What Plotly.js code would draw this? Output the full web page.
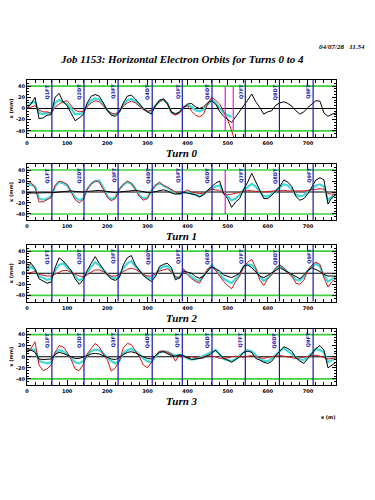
<!DOCTYPE html>
<html><head><meta charset="utf-8">
<script src="https://cdn.plot.ly/plotly-3.0.1.min.js"></script>
<style>html,body{margin:0;padding:0;background:#fff}#c{width:375px;height:500px}</style>
</head><body><div id="c"></div>
<script>
// s positions (m)
const S=[0,10,20,30,40,50,60,70,80,90,100,110,120,130,140,150,160,170,180,190,200,210,220,230,240,250,260,270,280,290,300,310,320,330,340,350,360,370,380,390,400,410,420,430,440,450,460,470,480,490,500,510,520,530,540,550,560,570,580,590,600,610,620,630,640,650,660,670,680,690,700,710,720,730,740,750,760,770];
const quadS=[62,142,227,312,387,461,544,629,713];
const quadNames=['Q1FT','Q2DT','Q3FT','Q4DT','Q5FT','Q6DT','Q7FT','Q8DT','Q9FT'];
const turnNames=['Turn 0','Turn 1','Turn 2','Turn 3'];
const xTicks=[0,100,200,300,400,500,600,700];
const yTicks=[-40,-20,0,20,40];
const limitLine=40;
const magentaS=[[494,514],[494],[],[]];

const black0=[0,8,20,-18,-17,-12,-11,20,27,12,5,-8,-22,-17,-11,10,22,25,22,10,-3,-12,-14,-7,10,22,24,17,8,0,-6,-10,5,15,16,8,-6,-10,-6,2,8,9,3,0,3,10,14,8,-5,-14,-20,-25,-15,-5,3,15,26,12,2,-10,-6,-4,6,10,12,9,4,-4,-10,-6,2,8,14,13,-8,-14,-10,-8];
const red0=[0,2,5,-3,-6,-6,-8,2,8,12,14,5,-3,-6,-5,3,10,14,12,5,-3,-8,-10,-5,4,10,13,10,4,-2,-5,-3,5,12,18,10,-8,-12,-8,3,5,-5,-12,-15,-10,8,20,15,8,-5,-20,-40,-62,null,null,null,null,null,null,null,null,null,null,null,null,null,null,null,null,null,null,null,null,null,null,null,null,null];
const cyan0=[3,10,12,-8,-10,-8,-9,10,15,12,8,0,-10,-10,-8,6,15,18,16,8,-3,-10,-11,-6,6,15,17,13,6,-1,-5,-6,5,13,16,9,-7,-10,-7,3,6,3,-3,-5,-2,8,16,10,2,-8,-12,-15,null,null,null,null,null,null,null,null,null,null,null,null,null,null,null,null,null,null,null,null,null,null,null,null,null,null];

const black1=[-2,-2,-1,-2,-2,-2,-2,-1,0,1,2,2,1,0,0,1,2,3,3,2,1,0,-1,0,1,2,3,3,2,0,-1,-1,1,3,4,2,-2,-4,-3,-1,-2,-4,-5,-9,-5,3,10,16,20,-3,-12,-28,-18,-12,5,18,34,18,5,-12,-12,-6,2,10,22,18,10,-8,-15,-12,-3,10,22,26,22,-22,-10,-5];
const red1=[15,17,8,-18,-18,-14,-10,12,20,18,14,0,-14,-20,-14,5,15,20,18,5,-10,-16,-12,5,14,20,16,5,-8,-15,-12,2,12,18,12,9,4,0,-4,0,4,0,-2,-3,-2,2,5,4,3,-2,-5,-4,-2,0,2,3,2,1,0,0,1,2,2,2,3,2,2,1,1,2,3,4,5,6,5,-3,-4,-4];
const cyan1=[10,14,10,-12,-14,-12,-8,10,18,16,12,0,-10,-15,-12,5,15,20,21,8,-8,-13,-10,5,13,18,15,6,-6,-12,-10,2,12,16,12,8,3,-2,-4,-1,0,-3,-6,-8,-4,2,6,10,12,-2,-8,-15,-12,-5,4,10,15,10,2,-8,-8,-4,2,8,14,12,5,-5,-8,-6,0,5,12,14,10,-15,-8,-4];

const black2=[10,18,8,-10,-14,-18,-16,10,28,22,14,5,-10,-20,-12,5,18,30,18,8,-3,-10,-13,-8,15,28,32,15,6,-4,-10,-15,-6,12,16,18,10,-12,-8,3,2,0,-6,-9,-5,4,12,8,4,-3,-6,-8,-4,0,13,15,10,2,-5,-8,-4,0,5,10,6,3,-2,-6,-10,-3,5,10,7,3,-2,-5,-5,-5];
const red2=[0,2,3,-2,-4,-5,-5,-2,2,5,5,2,-2,-5,-6,-3,2,6,6,3,-2,-5,-5,-2,3,7,9,7,3,-2,-5,-5,-1,4,6,8,2,-6,-9,8,-3,-10,-15,-18,-5,8,12,5,-5,-15,-22,-28,-15,-5,12,20,25,10,-12,-22,-10,-3,10,15,10,0,-5,-18,-20,-12,5,15,20,16,-8,-25,-15,-10];
const cyan2=[5,12,6,-6,-8,-12,-10,5,15,18,10,4,-6,-13,-9,2,12,20,14,6,-2,-7,-9,-5,9,18,22,12,5,-3,-8,-10,-3,8,12,13,5,-8,-8,6,0,-6,-12,-14,-4,6,14,7,-2,-10,-14,-18,-10,-2,12,16,15,7,-6,-14,-8,-1,8,14,8,2,-4,-12,-13,-6,5,12,17,12,-4,-15,-10,-6];

const black3=[10,12,8,-4,-5,-5,-4,4,8,6,3,0,-3,-3,-1,2,5,6,5,2,-2,-4,-5,-2,4,8,9,7,3,0,-3,-4,2,8,9,6,2,1,3,2,-2,-5,-4,-3,-2,2,6,12,5,-3,-6,-10,-5,0,8,10,8,-3,-6,-10,-12,-8,2,10,18,15,10,-2,-8,-12,-4,6,15,20,12,-20,-15,-10];
const red3=[10,15,27,-15,-25,-22,-15,8,20,18,8,-5,-22,-25,-14,5,15,24,18,5,-5,-26,-20,-8,16,24,22,12,0,-15,-20,-10,2,10,10,8,5,-8,4,0,-2,0,-2,-3,0,2,1,0,-3,-3,-2,0,1,0,-1,1,2,0,-2,-3,-1,0,1,2,1,0,-1,-3,-2,-1,0,2,3,1,-2,-4,-3,-2];
const cyan3=[12,14,12,-8,-10,-12,-10,6,12,10,5,-2,-10,-12,-8,3,10,13,12,6,-2,-8,-12,-8,6,12,14,10,4,-3,-8,-10,0,8,10,9,5,2,4,2,-3,-5,-4,-2,2,5,8,12,4,-4,-6,-8,-4,2,8,12,10,3,-4,-8,-8,-3,4,10,15,10,5,-2,-5,-6,0,6,14,12,8,-10,-6,-3];

const blackSets=[black0,black1,black2,black3];
const redSets=[red0,red1,red2,red3];
const cyanSets=[cyan0,cyan1,cyan2,cyan3];

const domains=[[0.726,0.84],[0.56,0.672],[0.397,0.51],[0.23,0.343]];
const turnY=[0.694,0.528,0.364,0.198];
const BLUE='#1a1aa8', GREEN='#3cd23c', MAG='#e020e0';
const tickFont={family:'DejaVu Sans',size:5,color:'#000',weight:'bold'};

const data=[]; const layout={
  width:375,height:500,margin:{l:27,r:39,t:0,b:0},
  paper_bgcolor:'#fff',plot_bgcolor:'#fff',showlegend:false,
  shapes:[],annotations:[]
};
for(let p=0;p<4;p++){
  const n=p?String(p+1):'';
  const xa='x'+n, ya='y'+n;
  layout['xaxis'+n]={anchor:ya,domain:[0,1],range:[0,770],showline:true,mirror:'ticks',linecolor:'#000',linewidth:1,
    ticks:'inside',ticklen:5,tickwidth:1,tickcolor:'#000',tickvals:xTicks,ticktext:xTicks.map(String),
    minor:{dtick:20,tick0:0,ticks:'inside',ticklen:3,tickcolor:'#000',showgrid:false},
    showgrid:false,zeroline:false,tickfont:tickFont,ticklabelstandoff:1};
  layout['yaxis'+n]={anchor:xa,domain:domains[p],range:[-51,51],showline:true,mirror:'ticks',linecolor:'#000',linewidth:1,
    ticks:'inside',ticklen:4,tickwidth:1,tickcolor:'#000',tickvals:yTicks,ticktext:yTicks.map(String),
    minor:{dtick:5,tick0:0,ticks:'inside',ticklen:2,tickcolor:'#000',showgrid:false},
    showgrid:false,zeroline:false,tickfont:tickFont,
    title:{text:'x (mm)',font:{family:'DejaVu Sans',size:5,weight:'bold',color:'#000'},standoff:2}};
  [limitLine,-limitLine].forEach(v=>layout.shapes.push({type:'line',xref:xa+' domain',yref:ya,x0:0,x1:1,y0:v,y1:v,line:{color:GREEN,width:1.6},layer:'below'}));
  layout.shapes.push({type:'line',xref:xa+' domain',yref:ya,x0:0,x1:1,y0:0,y1:0,line:{color:'#000',width:1},layer:'below'});
  quadS.forEach((q,i)=>{
    layout.shapes.push({type:'line',xref:xa,yref:ya+' domain',x0:q,x1:q,y0:0,y1:1,line:{color:BLUE,width:1.2},layer:'above'});
    layout.annotations.push({xref:xa,yref:ya,x:q,y:30,xshift:-5,text:quadNames[i],textangle:-90,showarrow:false,
      font:{family:'DejaVu Sans',size:5,color:BLUE,weight:'bold'},xanchor:'center',yanchor:'middle'});
  });
  magentaS[p].forEach(m=>layout.shapes.push({type:'line',xref:xa,yref:ya,x0:m,x1:m,y0:-limitLine,y1:limitLine,line:{color:MAG,width:1.2},layer:'above'}));
  data.push({x:S,y:cyanSets[p],xaxis:xa,yaxis:ya,mode:'lines',line:{color:'#40d8d8',width:2.2},connectgaps:false,hoverinfo:'skip'});
  data.push({x:S,y:redSets[p],xaxis:xa,yaxis:ya,mode:'lines',line:{color:'#d01818',width:1},connectgaps:false,hoverinfo:'skip'});
  data.push({x:S,y:blackSets[p],xaxis:xa,yaxis:ya,mode:'lines',line:{color:'#000',width:1},hoverinfo:'skip'});
  layout.annotations.push({xref:'paper',yref:'paper',x:0.5,y:turnY[p],text:turnNames[p],showarrow:false,
    font:{family:'Liberation Serif',size:11,style:'italic',weight:'bold',color:'#000'},xanchor:'center',yanchor:'middle'});
}
layout.annotations.push({xref:'paper',yref:'paper',x:0.5,y:0.882,text:'Job 1153: Horizontal Electron Orbits for Turns 0 to 4',showarrow:false,
  font:{family:'Liberation Serif',size:11,style:'italic',weight:'bold',color:'#000'},xanchor:'center',yanchor:'middle'});
layout.annotations.push({xref:'paper',yref:'paper',x:1.10,y:0.905,text:'04/07/28&nbsp;&nbsp;&nbsp;11.54',showarrow:false,
  font:{family:'Liberation Serif',size:7,style:'italic',weight:'bold',color:'#000'},xanchor:'right',yanchor:'middle'});
layout.annotations.push({xref:'paper',yref:'paper',x:0.975,y:0.166,text:'s (m)',showarrow:false,
  font:{family:'DejaVu Sans',size:5,weight:'bold',color:'#000'},xanchor:'center',yanchor:'middle'});
Plotly.newPlot('c',data,layout,{staticPlot:true,displayModeBar:false});
</script></body></html>
